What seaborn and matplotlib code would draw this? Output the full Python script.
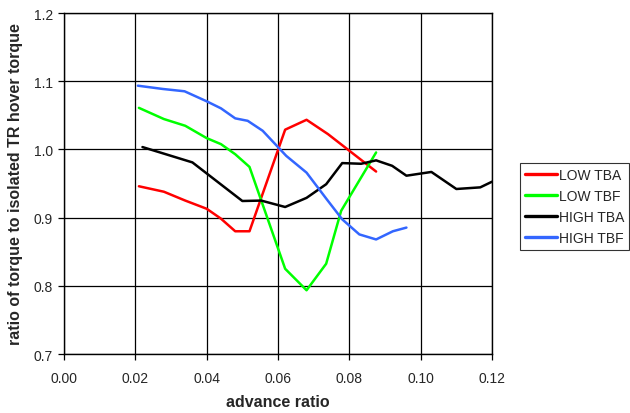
import numpy as np
import pandas as pd
import matplotlib
matplotlib.use("Agg")
import matplotlib.pyplot as plt
import seaborn as sns

# Torque ratio vs. advance ratio for four rotor configurations
low_tba_mu = [0.021, 0.028, 0.034, 0.040, 0.044, 0.048, 0.052, 0.062, 0.068, 0.074, 0.0875]
low_tba_q = [0.946, 0.938, 0.925, 0.913, 0.8985, 0.880, 0.880, 1.029, 1.0435, 1.0225, 0.9676]

low_tbf_mu = [0.021, 0.028, 0.034, 0.040, 0.044, 0.048, 0.052, 0.062, 0.068, 0.0735, 0.0777, 0.0875]
low_tbf_q = [1.061, 1.0446, 1.0347, 1.0166, 1.0078, 0.993, 0.9744, 0.825, 0.7935, 0.8324, 0.910, 0.9956]

high_tba_mu = [0.022, 0.036, 0.050, 0.0553, 0.062, 0.068, 0.0735, 0.078, 0.0833, 0.0875,
               0.092, 0.096, 0.103, 0.110, 0.1167, 0.120]
high_tba_q = [1.0035, 0.981, 0.9244, 0.925, 0.9156, 0.929, 0.949, 0.980, 0.979, 0.984,
              0.976, 0.9615, 0.967, 0.942, 0.9444, 0.9527]

high_tbf_mu = [0.0207, 0.0277, 0.0338, 0.040, 0.044, 0.048, 0.0515, 0.0557, 0.0623, 0.068,
               0.0735, 0.078, 0.0828, 0.0875, 0.0922, 0.096]
high_tbf_q = [1.0935, 1.0887, 1.0853, 1.0706, 1.0603, 1.0456, 1.042, 1.0274, 0.9906, 0.966,
              0.928, 0.8975, 0.8754, 0.868, 0.880, 0.8854]

series_names = ["LOW TBA", "LOW TBF", "HIGH TBA", "HIGH TBF"]
series_mu = [low_tba_mu, low_tbf_mu, high_tba_mu, high_tbf_mu]
series_q = [low_tba_q, low_tbf_q, high_tba_q, high_tbf_q]
colors = ["#FF0000", "#00FF00", "#000000", "#3366FF"]

x_ticks = [0.00, 0.02, 0.04, 0.06, 0.08, 0.10, 0.12]
y_ticks = [0.7, 0.8, 0.9, 1.0, 1.1, 1.2]

frames = []
for name, mu, q in zip(series_names, series_mu, series_q):
    frames.append(pd.DataFrame({"mu": mu, "q": q, "series": name}))
df = pd.concat(frames, ignore_index=True)

sns.set_style("white")
plt.rcParams["font.family"] = ["Liberation Sans", "DejaVu Sans"]

fig = plt.figure(figsize=(6.3, 4.14), dpi=100)
ax = fig.add_axes([0.1016, 0.1425, 0.6794, 0.8235])

sns.lineplot(data=df, x="mu", y="q", hue="series", hue_order=series_names,
             palette=dict(zip(series_names, colors)), sort=False,
             estimator=None, linewidth=1.8, ax=ax)

ax.set_xlim(0.0, 0.12)
ax.set_ylim(0.7, 1.2)
ax.set_xticks(x_ticks)
ax.set_xticklabels([f"{v:.2f}" for v in x_ticks], fontsize=10)
ax.set_yticks(y_ticks)
ax.set_yticklabels([f"{v:.1f}" for v in y_ticks], fontsize=10)
ax.grid(True, color="black", linewidth=0.9)
ax.set_axisbelow(True)
for sp in ax.spines.values():
    sp.set_color("black")
    sp.set_linewidth(1.0)
ax.tick_params(axis="x", direction="out", length=4, width=0.9, color="black",
               bottom=True, pad=8)
ax.tick_params(axis="y", direction="out", length=4, width=0.9, color="black",
               left=True, pad=4)

ax.set_xlabel("advance ratio", fontsize=11.5, fontweight="bold", labelpad=7)
ax.set_ylabel("ratio of torque to isolated TR hover torque", fontsize=11.5,
              fontweight="bold", labelpad=8)

leg = ax.legend(loc="center left", bbox_to_anchor=(1.065, 0.433), frameon=True,
                fontsize=10, handlelength=2.3, handletextpad=0.15, borderpad=0.35,
                labelspacing=0.5, fancybox=False, borderaxespad=0)
leg.get_frame().set_edgecolor("black")
leg.get_frame().set_linewidth(0.8)
for line in leg.get_lines():
    line.set_linewidth(2.4)

fig.savefig("out.png", dpi=100)
